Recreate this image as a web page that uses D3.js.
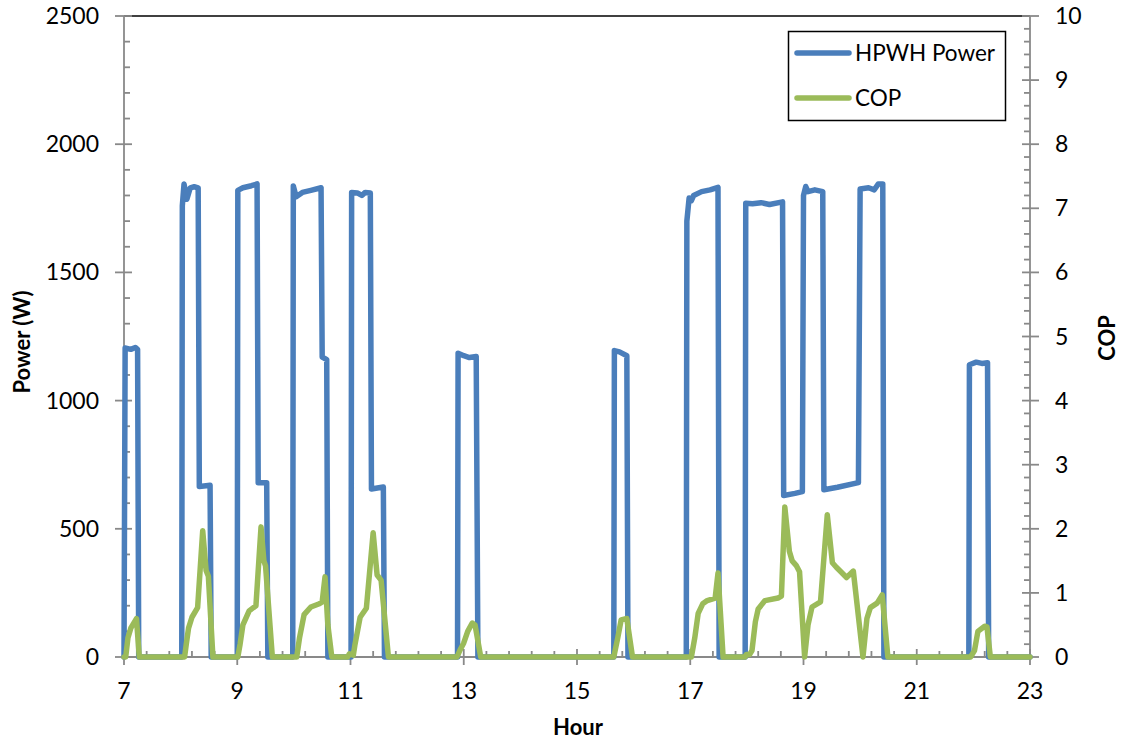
<!DOCTYPE html>
<html>
<head>
<meta charset="utf-8">
<script src="https://cdn.jsdelivr.net/npm/d3@7/dist/d3.min.js"></script>
<style>
  html, body { margin: 0; padding: 0; background: #fff; }
  svg { display: block; font-family: Lato, "Open Sans", sans-serif; }
</style>
</head>
<body>
<svg id="chart" width="1127" height="742"></svg>
<script>
// HPWH power draw (W) by hour of day: [hour, watts]
const powerSeries = [
  [7.00,0],[7.02,1205],[7.12,1200],[7.20,1207],[7.24,1200],[7.26,0],
  [8.02,0],[8.03,1760],[8.06,1845],[8.11,1785],[8.17,1830],[8.24,1834],[8.31,1830],[8.33,665],[8.45,668],[8.52,670],[8.54,0],
  [9.00,0],[9.01,1820],[9.10,1830],[9.25,1838],[9.35,1845],[9.37,680],[9.52,680],[9.54,0],
  [9.98,0],[9.99,1837],[10.04,1795],[10.15,1812],[10.30,1820],[10.48,1830],[10.50,1170],[10.58,1160],[10.60,0],
  [11.01,0],[11.02,1812],[11.12,1810],[11.20,1800],[11.26,1812],[11.35,1810],[11.37,655],[11.50,660],[11.58,663],[11.60,0],
  [12.89,0],[12.90,1185],[13.00,1175],[13.10,1168],[13.22,1172],[13.25,0],
  [15.65,0],[15.66,1195],[15.75,1190],[15.88,1175],[15.90,0],
  [16.93,0],[16.94,1700],[16.98,1790],[17.02,1780],[17.06,1800],[17.20,1815],[17.35,1822],[17.49,1832],[17.51,0],
  [17.97,0],[17.98,1770],[18.10,1768],[18.25,1772],[18.40,1765],[18.63,1775],[18.65,630],[18.85,638],[18.98,645],
  [19.00,1800],[19.04,1835],[19.08,1815],[19.20,1822],[19.34,1815],[19.36,652],[19.60,662],[19.97,680],
  [20.00,1825],[20.15,1830],[20.25,1822],[20.32,1845],[20.40,1845],[20.42,0],
  [21.92,0],[21.93,1140],[22.05,1150],[22.15,1145],[22.25,1148],[22.27,0],
  [23.00,0]
];

// Coefficient of performance by hour of day: [hour, COP]
const copSeries = [
  [7.00,0],[7.03,0],[7.07,0.30],[7.12,0.45],[7.22,0.60],[7.27,0],
  [8.07,0],[8.10,0.20],[8.14,0.45],[8.20,0.62],[8.30,0.77],[8.39,1.97],[8.45,1.35],[8.49,1.26],[8.57,0],
  [9.01,0],[9.05,0.20],[9.10,0.50],[9.21,0.72],[9.33,0.80],[9.42,2.03],[9.47,1.50],[9.50,1.42],[9.62,0],
  [10.05,0],[10.10,0.30],[10.18,0.66],[10.30,0.78],[10.45,0.83],[10.50,0.86],[10.55,1.25],[10.60,0.50],[10.67,0],
  [10.95,0],[10.98,0.05],[11.05,0.03],[11.08,0.20],[11.17,0.62],[11.28,0.76],[11.40,1.94],[11.47,1.28],[11.54,1.20],[11.67,0],
  [12.88,0],[12.93,0.10],[13.00,0.22],[13.07,0.40],[13.15,0.53],[13.20,0.50],[13.30,0],
  [15.65,0],[15.72,0.30],[15.78,0.58],[15.88,0.60],[15.98,0],
  [17.02,0],[17.08,0.30],[17.14,0.68],[17.22,0.83],[17.30,0.88],[17.44,0.92],[17.49,1.31],[17.58,0],
  [17.97,0],[17.99,0.04],[18.05,0.04],[18.09,0.10],[18.15,0.55],[18.20,0.75],[18.32,0.88],[18.55,0.92],[18.61,0.95],
  [18.67,2.34],[18.75,1.65],[18.80,1.50],[18.87,1.43],[18.93,1.33],[19.02,0],
  [19.08,0.50],[19.15,0.78],[19.30,0.86],[19.42,2.22],[19.51,1.47],[19.58,1.40],[19.66,1.33],[19.76,1.24],[19.88,1.34],[20.05,0],
  [20.12,0.60],[20.18,0.77],[20.30,0.84],[20.39,0.97],[20.49,0],
  [21.95,0],[22.02,0.10],[22.08,0.40],[22.20,0.48],[22.24,0.47],[22.30,0],
  [23.00,0]
];

const hourTicks = [7, 9, 11, 13, 15, 17, 19, 21, 23];
const powerTicks = [0, 500, 1000, 1500, 2000, 2500];
const copTicks = [0, 1, 2, 3, 4, 5, 6, 7, 8, 9, 10];

const seriesNames = ["HPWH Power", "COP"];
const seriesColors = ["#4A7EBB", "#9BBB59"];

const plot = { left: 124, right: 1030, top: 16, bottom: 657 };
const axisGray = "#898989";

const svg = d3.select("#chart");

const x = d3.scaleLinear().domain([7, 23]).range([plot.left, plot.right]);
const yP = d3.scaleLinear().domain([0, 2500]).range([plot.bottom, plot.top]);
const yC = d3.scaleLinear().domain([0, 10]).range([plot.bottom, plot.top]);

// minor tick positions between the labelled ones
const hourMinor = d3.range(7, 23.001, 0.4).filter(v => !hourTicks.some(t => Math.abs(t - v) < 1e-6));
const powerMinor = d3.range(0, 2501, 100).filter(v => v % 500 !== 0);
const copMinor = d3.range(0, 10.001, 0.2).filter(v => Math.abs(v - Math.round(v)) > 1e-6);

// top border of the plot area
svg.append("line")
  .attr("x1", plot.left).attr("x2", plot.right)
  .attr("y1", plot.top).attr("y2", plot.top)
  .attr("stroke", "#000").attr("stroke-width", 1.5);

const axes = svg.append("g").attr("stroke", axisGray).attr("stroke-width", 1.8);

// left axis
axes.append("line").attr("x1", plot.left).attr("x2", plot.left)
  .attr("y1", plot.top).attr("y2", plot.bottom);
axes.selectAll(".pmaj").data(powerTicks).join("line")
  .attr("x1", plot.left - 9).attr("x2", plot.left + 8)
  .attr("y1", d => yP(d)).attr("y2", d => yP(d));
axes.selectAll(".pmin").data(powerMinor).join("line")
  .attr("x1", plot.left).attr("x2", plot.left + 6)
  .attr("y1", d => yP(d)).attr("y2", d => yP(d));

// right axis
axes.append("line").attr("x1", plot.right).attr("x2", plot.right)
  .attr("y1", plot.top).attr("y2", plot.bottom);
axes.selectAll(".cmaj").data(copTicks).join("line")
  .attr("x1", plot.right - 8).attr("x2", plot.right + 9)
  .attr("y1", d => yC(d)).attr("y2", d => yC(d));
axes.selectAll(".cmin").data(copMinor).join("line")
  .attr("x1", plot.right - 6).attr("x2", plot.right)
  .attr("y1", d => yC(d)).attr("y2", d => yC(d));

// bottom axis
axes.append("line").attr("x1", plot.left).attr("x2", plot.right)
  .attr("y1", plot.bottom).attr("y2", plot.bottom);
axes.selectAll(".hmaj").data(hourTicks).join("line")
  .attr("x1", d => x(d)).attr("x2", d => x(d))
  .attr("y1", plot.bottom - 8).attr("y2", plot.bottom + 8);
axes.selectAll(".hmin").data(hourMinor).join("line")
  .attr("x1", d => x(d)).attr("x2", d => x(d))
  .attr("y1", plot.bottom - 6).attr("y2", plot.bottom);

// tick labels
const labels = svg.append("g").attr("fill", "#000").attr("font-size", 23);
labels.selectAll(".pl").data(powerTicks).join("text")
  .attr("x", plot.left - 25).attr("y", d => yP(d)).attr("dy", "0.35em")
  .attr("text-anchor", "end").text(d => d);
labels.selectAll(".cl").data(copTicks).join("text")
  .attr("x", plot.right + 25).attr("y", d => yC(d)).attr("dy", "0.35em")
  .attr("text-anchor", "start").text(d => d);
labels.selectAll(".hl").data(hourTicks).join("text")
  .attr("x", d => x(d)).attr("y", plot.bottom + 34).attr("dy", "0.35em")
  .attr("text-anchor", "middle").text(d => d);

// axis titles
const titles = svg.append("g").attr("font-weight", "bold").attr("font-size", 22).attr("fill", "#000");
titles.append("text").attr("text-anchor", "middle")
  .attr("transform", "translate(30,342) rotate(-90)")
  .text("Power (W)");
titles.append("text").attr("text-anchor", "middle")
  .attr("transform", "translate(1115,338) rotate(-90)")
  .text("COP");
titles.append("text").attr("text-anchor", "middle")
  .attr("x", 578).attr("y", 735)
  .text("Hour");

// data lines
const powerLine = d3.line().x(d => x(d[0])).y(d => yP(d[1]));
const copLine = d3.line().x(d => x(d[0])).y(d => yC(d[1]));

svg.append("path").datum(powerSeries)
  .attr("d", powerLine).attr("fill", "none")
  .attr("stroke", seriesColors[0]).attr("stroke-width", 5.5)
  .attr("stroke-linejoin", "round").attr("stroke-linecap", "round");

svg.append("path").datum(copSeries)
  .attr("d", copLine).attr("fill", "none")
  .attr("stroke", seriesColors[1]).attr("stroke-width", 5.5)
  .attr("stroke-linejoin", "round").attr("stroke-linecap", "round");

// legend
const legend = svg.append("g");
legend.append("rect")
  .attr("x", 788.5).attr("y", 31.5).attr("width", 217).attr("height", 89)
  .attr("fill", "#fff").attr("stroke", "#000").attr("stroke-width", 1.5);
const items = legend.selectAll(".item").data(seriesNames).join("g")
  .attr("transform", (d, i) => `translate(0,${53 + i * 45})`);
items.append("line")
  .attr("x1", 797).attr("x2", 849).attr("y1", 0).attr("y2", 0)
  .attr("stroke", (d, i) => seriesColors[i]).attr("stroke-width", 5.5)
  .attr("stroke-linecap", "round");
items.append("text")
  .attr("x", 855).attr("y", 0).attr("dy", "0.35em")
  .attr("font-size", 22.5).attr("fill", "#000")
  .text(d => d);
</script>
</body>
</html>
